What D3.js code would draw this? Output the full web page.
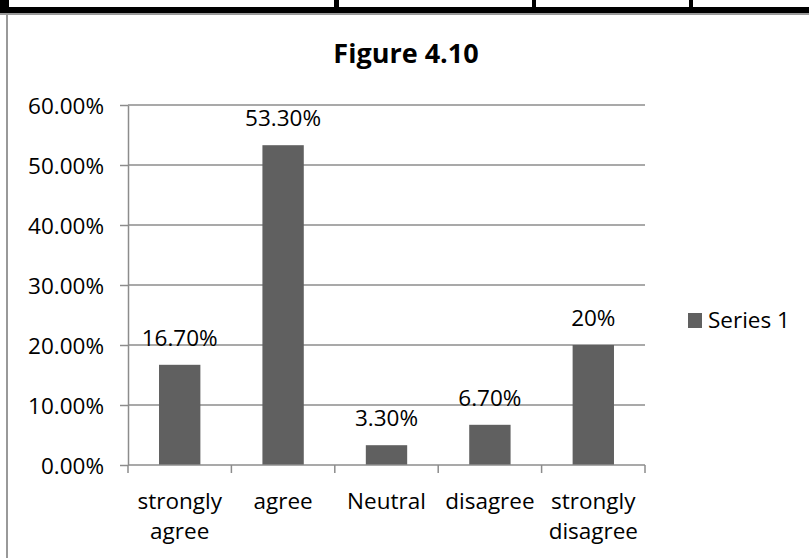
<!DOCTYPE html>
<html>
<head>
<meta charset="utf-8">
<script src="https://cdn.jsdelivr.net/npm/d3@7/dist/d3.min.js"></script>
<style>
  html, body { margin: 0; padding: 0; background: #fff; }
  svg { display: block; font-family: "Open Sans", "Noto Sans", sans-serif; }
</style>
</head>
<body>
<svg id="chart" width="809" height="558"></svg>
<script>
// Survey responses shown in Figure 4.10
const categories = ["strongly agree", "agree", "Neutral", "disagree", "strongly disagree"];
const values = [0.167, 0.533, 0.033, 0.067, 0.20];
const valueLabels = ["16.70%", "53.30%", "3.30%", "6.70%", "20%"];
const yTicks = [0, 0.1, 0.2, 0.3, 0.4, 0.5, 0.6];
const seriesName = "Series 1";
const title = "Figure 4.10";

const svg = d3.select("#chart");
const barColor = "#606060";
const gridColor = "#8c8c8c";

// ---- bottom border of the table above the figure ----
const table = svg.append("g");
table.append("rect").attr("x", 0).attr("y", 13).attr("width", 809).attr("height", 2).attr("fill", "#9a9a9a");
table.append("rect").attr("x", 0).attr("y", 7).attr("width", 809).attr("height", 6).attr("fill", "#000");
[[0, 9], [334, 5], [532, 4], [689, 4]].forEach(([x, w]) => {
  table.append("rect").attr("x", x).attr("y", 0).attr("width", w).attr("height", 10).attr("fill", "#000");
});

// ---- chart frame ----
svg.append("rect")
  .attr("x", 7).attr("y", 14).attr("width", 900).attr("height", 700)
  .attr("fill", "none").attr("stroke", "#999").attr("stroke-width", 2);

// ---- title ----
svg.append("text")
  .attr("x", 406).attr("y", 63)
  .attr("text-anchor", "middle")
  .attr("font-size", 27).attr("font-weight", "bold")
  .attr("fill", "#000")
  .text(title);

// ---- scales ----
const x = d3.scaleBand().domain(categories).range([128, 645])
  .paddingInner(0.6).paddingOuter(0.3);
const y = d3.scaleLinear().domain([0, 0.6]).range([465, 105]);
const fmt = d3.format(".2%");

// gridlines
svg.append("g").selectAll("line").data(yTicks.filter(t => t > 0)).join("line")
  .attr("x1", 128).attr("x2", 645)
  .attr("y1", d => y(d)).attr("y2", d => y(d))
  .attr("stroke", gridColor).attr("stroke-width", 1.5);

// y axis
const yAxis = svg.append("g").attr("transform", "translate(128,0)")
  .call(d3.axisLeft(y).tickValues(yTicks).tickFormat(fmt).tickSizeInner(8).tickSizeOuter(0).tickPadding(16));
yAxis.select(".domain").attr("stroke", gridColor).attr("stroke-width", 1.5);
yAxis.selectAll(".tick line").attr("stroke", gridColor).attr("stroke-width", 1.5);
yAxis.selectAll(".tick text")
  .attr("font-family", "\"Open Sans\", sans-serif")
  .attr("font-size", 22.5).attr("fill", "#000").attr("dy", "0.36em");

// bars
svg.append("g").selectAll("rect").data(values).join("rect")
  .attr("x", (d, i) => x(categories[i]))
  .attr("width", x.bandwidth())
  .attr("y", d => y(d))
  .attr("height", d => y(0) - y(d))
  .attr("fill", barColor);

// x axis line and category boundary ticks
const step = x.step();
const gap = step - x.bandwidth();
const bounds = categories.map(c => x(c) - gap / 2).concat([x(categories[categories.length - 1]) + x.bandwidth() + gap / 2]);
const xAxis = svg.append("g");
xAxis.append("line").attr("x1", bounds[0]).attr("x2", bounds[bounds.length - 1])
  .attr("y1", y(0)).attr("y2", y(0)).attr("stroke", gridColor).attr("stroke-width", 1.5);
xAxis.selectAll("line.tick").data(bounds).join("line").attr("class", "tick")
  .attr("x1", d => d).attr("x2", d => d)
  .attr("y1", y(0)).attr("y2", y(0) + 8)
  .attr("stroke", gridColor).attr("stroke-width", 1.5);

// category labels, wrapped at spaces
const catLabels = xAxis.selectAll("text").data(categories).join("text")
  .attr("text-anchor", "middle")
  .attr("font-size", 22.5).attr("fill", "#000")
  .attr("transform", d => `translate(${x(d) + x.bandwidth() / 2},0)`);
catLabels.each(function(d) {
  const words = d.split(" ");
  d3.select(this).selectAll("tspan").data(words).join("tspan")
    .attr("x", 0).attr("y", (w, i) => 509 + i * 30).text(w => w);
});

// value labels
svg.append("g").selectAll("text").data(values).join("text")
  .attr("x", (d, i) => x(categories[i]) + x.bandwidth() / 2)
  .attr("y", d => y(d) - 19)
  .attr("text-anchor", "middle")
  .attr("font-size", 22.5).attr("fill", "#000")
  .text((d, i) => valueLabels[i]);

// legend
const legend = svg.append("g").attr("transform", "translate(688,328)");
legend.append("rect").attr("x", 0).attr("y", -15).attr("width", 14).attr("height", 15).attr("fill", barColor);
legend.append("text").attr("x", 20).attr("y", 0).attr("font-size", 22.5).attr("fill", "#000").text(seriesName);
</script>
</body>
</html>
